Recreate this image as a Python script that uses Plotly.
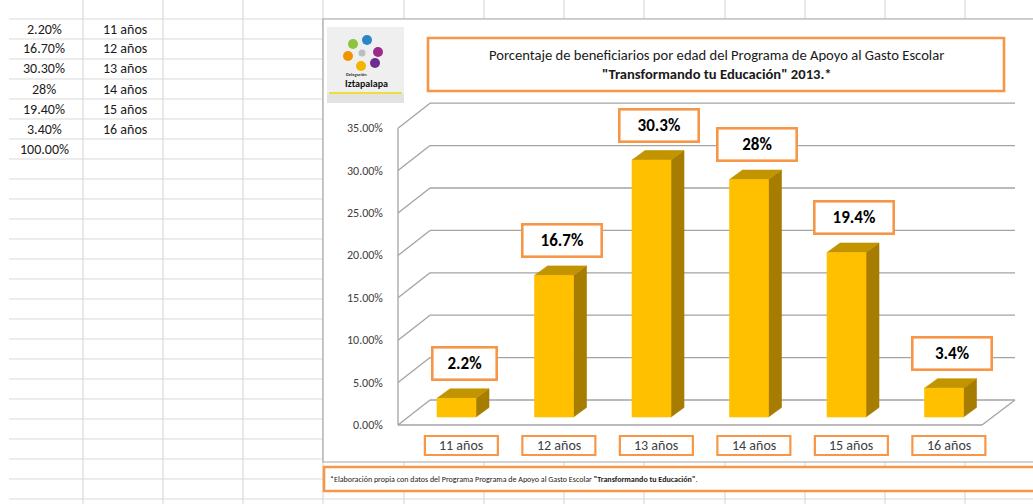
import plotly.graph_objects as go

# ---- data -------------------------------------------------------------
ages = ["11 años", "12 años", "13 años", "14 años", "15 años", "16 años"]
shares = [2.2, 16.7, 30.3, 28.0, 19.4, 3.4]
share_labels = ["2.2%", "16.7%", "30.3%", "28%", "19.4%", "3.4%"]
cell_shares = ["2.20%", "16.70%", "30.30%", "28%", "19.40%", "3.40%", "100.00%"]
y_ticks = [0, 5, 10, 15, 20, 25, 30, 35]
y_tick_text = ["0.00%", "5.00%", "10.00%", "15.00%", "20.00%", "25.00%", "30.00%", "35.00%"]

title_1 = "Porcentaje de beneficiarios por edad del Programa de Apoyo al Gasto Escolar"
title_2 = "<b>\"Transformando tu Educación\" 2013.*</b>"
footnote = ("*Elaboración propia con datos del Programa Programa de Apoyo al Gasto Escolar "
            "<b>\"Transformando tu Educación\"</b>.")

# ---- canvas / geometry -------------------------------------------------
W, H = 1033, 504
X0, XS = 456.5, 97.5      # pixel of first category, pixels per category
Y0, YS = 417.0, 8.48      # pixel of 0 % at bar depth, pixels per percent


def dx(p):
    return (p - X0) / XS


def dy(p):
    return (Y0 - p) / YS


def px(p):
    return p / W


def py(p):
    return 1 - p / H


FONT = "Carlito, Calibri, Lato, sans-serif"
ORANGE = "#F79646"
GRID = "#a3a3a3"
CELL = "#dadada"

fig = go.Figure()

# ---- 3-D bars ----------------------------------------------------------
half = 0.2
ddx, ddy = 13 / XS, 9.5 / YS
front_x, front_y, side_x, side_y, top_x, top_y = [], [], [], [], [], []
for i, v in enumerate(shares):
    l, r = i - half, i + half
    front_x += [l, r, r, l, l, None]
    front_y += [0, 0, v, v, 0, None]
    side_x += [r, r + ddx, r + ddx, r, r, None]
    side_y += [0, ddy, v + ddy, v, 0, None]
    top_x += [l, l + ddx, r + ddx, r, l, None]
    top_y += [v, v + ddy, v + ddy, v, v, None]

for xs, ys, col in [(side_x, side_y, "#A67D00"), (top_x, top_y, "#C29400"),
                    (front_x, front_y, "#FFC000")]:
    fig.add_trace(go.Scatter(x=xs, y=ys, mode="lines", fill="toself",
                             fillcolor=col, line=dict(color=col, width=0.6),
                             hoverinfo="skip", showlegend=False))

shapes = []

# ---- spreadsheet grid --------------------------------------------------
for k in range(25):
    y = 19 + 20 * k
    shapes.append(dict(type="line", xref="paper", yref="paper", layer="below",
                       x0=px(9), x1=1, y0=py(y), y1=py(y),
                       line=dict(color=CELL, width=1.2)))
for c in [83, 163, 243, 323, 404, 484, 564, 644, 725, 805, 885, 965]:
    shapes.append(dict(type="line", xref="paper", yref="paper", layer="below",
                       x0=px(c), x1=px(c), y0=0, y1=1,
                       line=dict(color=CELL, width=1.2)))

# chart area
shapes.append(dict(type="rect", xref="paper", yref="paper", layer="below",
                   x0=px(323), x1=px(1045), y0=py(462), y1=py(19),
                   fillcolor="white", line=dict(color="#a6a6a6", width=1.2)))

# ---- walls, floor and gridlines ---------------------------------------
front0, back0 = dy(425), dy(400)
xl_front, xl_back, xr_front, xr_back = dx(398), dx(430), dx(982), dx(1015)
wall = dict(color=GRID, width=1.3)
for t in y_ticks:
    shapes.append(dict(type="line", xref="x", yref="y", layer="below",
                       x0=xl_back, x1=xr_back, y0=t + back0, y1=t + back0, line=wall))
    shapes.append(dict(type="line", xref="x", yref="y", layer="below",
                       x0=xl_front, x1=xl_back, y0=t + front0, y1=t + back0, line=wall))
shapes.append(dict(type="line", xref="x", yref="y", layer="below",
                   x0=xl_front, x1=xr_front, y0=front0, y1=front0, line=wall))
shapes.append(dict(type="line", xref="x", yref="y", layer="below",
                   x0=xr_front, x1=xr_back, y0=front0, y1=back0, line=wall))
shapes.append(dict(type="line", xref="x", yref="y", layer="below",
                   x0=xl_front, x1=xl_front, y0=front0, y1=y_ticks[-1] + front0, line=wall))

# ---- title box, footnote box, category boxes --------------------------
shapes.append(dict(type="rect", xref="paper", yref="paper",
                   x0=px(428), x1=px(1004), y0=py(91), y1=py(38),
                   fillcolor="white", line=dict(color=ORANGE, width=2.6)))
shapes.append(dict(type="rect", xref="paper", yref="paper",
                   x0=px(324), x1=px(1045), y0=py(491), y1=py(467),
                   fillcolor="white", line=dict(color=ORANGE, width=2.6)))
cat_w = 73 / XS / 2
for i, _ in enumerate(ages):
    shapes.append(dict(type="rect", xref="x", yref="y",
                       x0=i + 0.05 - cat_w, x1=i + 0.05 + cat_w, y0=dy(455), y1=dy(436),
                       fillcolor="white", line=dict(color=ORANGE, width=2.2)))

# ---- logo --------------------------------------------------------------
shapes.append(dict(type="rect", xref="paper", yref="paper",
                   x0=px(327), x1=px(404), y0=py(103), y1=py(27),
                   fillcolor="#efefef", line=dict(width=0)))
shapes.append(dict(type="rect", xref="paper", yref="paper",
                   x0=px(327), x1=px(404), y0=py(103), y1=py(94),
                   fillcolor="#e2e2e2", line=dict(width=0)))
shapes.append(dict(type="line", xref="paper", yref="paper",
                   x0=px(329), x1=px(402), y0=py(93), y1=py(93),
                   line=dict(color="#f0dc3c", width=2)))
for cx, cy, r, col in [(353, 44, 5, "#8cc43f"), (367, 40, 5, "#2b86c5"),
                       (378, 52, 5, "#9c2a8d"), (375, 63, 5, "#6d2c90"),
                       (361, 66, 5, "#f4b400"), (348, 56, 5, "#f39200"),
                       (362, 53, 3.5, "#bdbdbd")]:
    shapes.append(dict(type="circle", xref="paper", yref="paper",
                       x0=px(cx - r), x1=px(cx + r), y0=py(cy + r), y1=py(cy - r),
                       fillcolor=col, line=dict(width=0)))

annotations = []

# ---- spreadsheet cells -------------------------------------------------
for k, txt in enumerate(cell_shares):
    annotations.append(dict(xref="paper", yref="paper", x=px(44), y=py(29 + 20 * k),
                            text=txt, showarrow=False, xanchor="center", yanchor="middle",
                            font=dict(family=FONT, size=14, color="#1a1a1a")))
for k, txt in enumerate(ages):
    annotations.append(dict(xref="paper", yref="paper", x=px(101), y=py(29 + 20 * k),
                            text=txt, showarrow=False, xanchor="left", yanchor="middle",
                            font=dict(family=FONT, size=14, color="#1a1a1a")))

# ---- axis tick labels (front plane of the value axis) -----------------
for t, txt in zip(y_ticks, y_tick_text):
    annotations.append(dict(xref="x", yref="y", x=dx(385), y=t + front0, text=txt,
                            showarrow=False, xanchor="right", yanchor="middle",
                            font=dict(family=FONT, size=12, color="#404040")))

# ---- category labels ---------------------------------------------------
for i, txt in enumerate(ages):
    annotations.append(dict(xref="x", yref="y", x=i + 0.05, y=dy(445.5), text=txt,
                            showarrow=False, xanchor="center", yanchor="middle",
                            font=dict(family=FONT, size=14, color="#404040")))

# ---- value labels ------------------------------------------------------
label_box_w = [67, 82, 82, 82, 82, 82]
bw, pad = 2.6, 1
for i, (v, txt) in enumerate(zip(shares, share_labels)):
    annotations.append(dict(xref="x", yref="y", x=i + 0.08, y=v + 4.1, text="<b>" + txt + "</b>",
                            showarrow=False, xanchor="center", yanchor="middle",
                            width=label_box_w[i] - 2 * (bw + pad), height=35 - 2 * (bw + pad),
                            bgcolor="white", bordercolor=ORANGE, borderwidth=bw, borderpad=pad,
                            font=dict(family=FONT, size=17, color="black")))

# ---- title and footnote -----------------------------------------------
annotations.append(dict(xref="paper", yref="paper", x=px(716), y=py(55), text=title_1,
                        showarrow=False, xanchor="center", yanchor="middle",
                        font=dict(family=FONT, size=14.6, color="#1a1a1a")))
annotations.append(dict(xref="paper", yref="paper", x=px(717), y=py(74), text=title_2,
                        showarrow=False, xanchor="center", yanchor="middle",
                        font=dict(family=FONT, size=14.6, color="#1a1a1a")))
annotations.append(dict(xref="paper", yref="paper", x=px(328), y=py(479), text=footnote,
                        showarrow=False, xanchor="left", yanchor="middle",
                        font=dict(family=FONT, size=8, color="#1a1a1a")))

# ---- logo lettering ----------------------------------------------------
annotations.append(dict(xref="paper", yref="paper", x=px(344), y=py(74), text="<b>Delegación</b>",
                        showarrow=False, xanchor="left", yanchor="middle",
                        font=dict(family=FONT, size=4.5, color="#333333")))
annotations.append(dict(xref="paper", yref="paper", x=px(366), y=py(84), text="<b>Iztapalapa</b>",
                        showarrow=False, xanchor="center", yanchor="middle",
                        font=dict(family=FONT, size=10, color="#111111")))

fig.update_layout(
    width=W, height=H, margin=dict(l=0, r=0, t=0, b=0),
    paper_bgcolor="white", plot_bgcolor="rgba(0,0,0,0)",
    xaxis=dict(range=[dx(0), dx(W)], visible=False, fixedrange=True),
    yaxis=dict(range=[dy(H), dy(0)], visible=False, fixedrange=True),
    shapes=shapes, annotations=annotations, showlegend=False,
)

fig.write_html("out.html")
